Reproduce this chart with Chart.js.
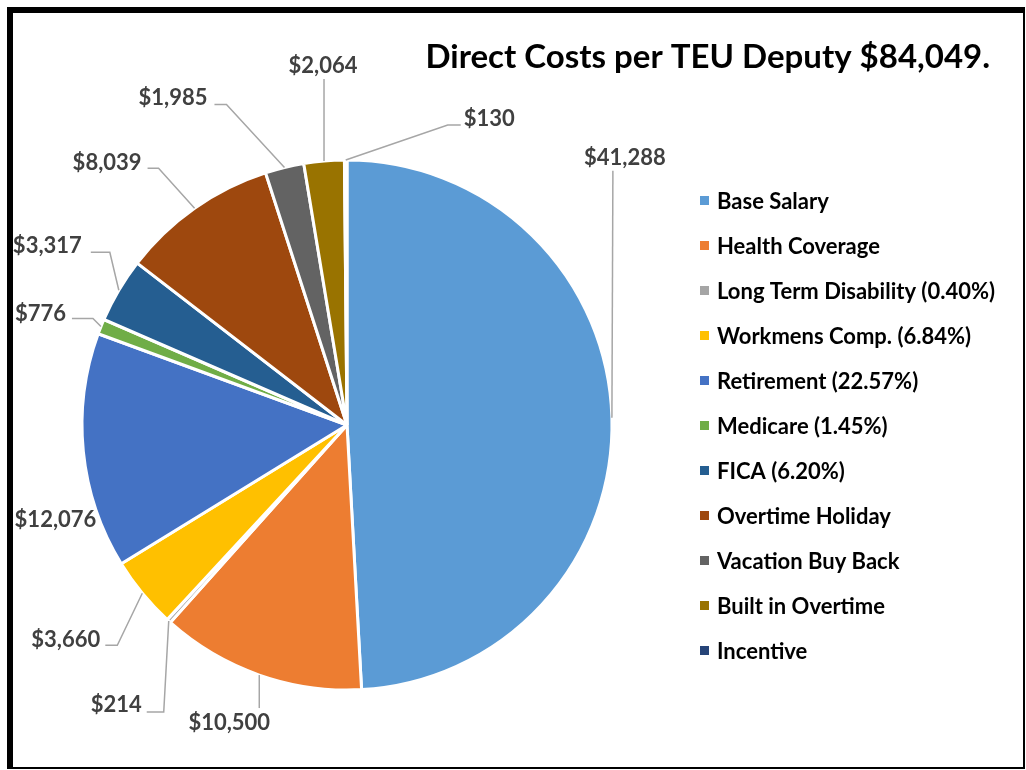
<!DOCTYPE html>
<html>
<head>
<meta charset="utf-8">
<script src="https://cdn.jsdelivr.net/npm/chart.js@4.4.1/dist/chart.umd.min.js"></script>
<style>
  html, body { margin: 0; padding: 0; background: #fff; }
  #wrap { width: 1026px; height: 770px; }
</style>
</head>
<body>
<div id="wrap"><canvas id="costChart" width="1026" height="770"></canvas></div>
<script>
const chartTitle = 'Direct Costs per TEU Deputy $84,049.';

const categories = [
    'Base Salary',
    'Health Coverage',
    'Long Term Disability (0.40%)',
    'Workmens Comp. (6.84%)',
    'Retirement (22.57%)',
    'Medicare (1.45%)',
    'FICA (6.20%)',
    'Overtime Holiday',
    'Vacation Buy Back',
    'Built in Overtime',
    'Incentive'
];

const costs = [41288, 10500, 214, 3660, 12076, 776, 3317, 8039, 1985, 2064, 130];

const sliceColors = [
    '#5B9BD5', '#ED7D31', '#A5A5A5', '#FFC000', '#4472C4', '#70AD47',
    '#255E91', '#9E480E', '#636363', '#997300', '#264478'
];

// leader line elbows (offsets from the slice's rim point) and label offsets from the line end
const leaderLayout = [
    { path: [[1, -247]], text: [12, -14], align: 'center' },
    { path: [[0, 33]], text: [-30, 14], align: 'center' },
    { path: [[-5, 91], [-17, 0]], text: [-5, -8], align: 'right' },
    { path: [[-25, 52], [-12, 0]], text: [-5, -6], align: 'right' },
    { path: [], text: [13, 68], align: 'right' },
    { path: [[-8, -8], [-21, 0]], text: [-6, -6], align: 'right' },
    { path: [[-9, -38], [-19, 0]], text: [-9, -7], align: 'right' },
    { path: [[-36, -40], [-11, 0]], text: [-6, -6], align: 'right' },
    { path: [[-58, -63], [-12, 0]], text: [-7, -7], align: 'right' },
    { path: [[0, -82]], text: [-1, -14], align: 'center' },
    { path: [[102, -35], [13, 0]], text: [3, -7], align: 'left' }
];

const FONT = 'Lato, "Open Sans", sans-serif';

function money(v) {
    return '$' + v.toLocaleString('en-US');
}

const extrasPlugin = {
    id: 'extras',
    afterDraw(chart) {
        const ctx = chart.ctx;
        const meta = chart.getDatasetMeta(0);
        ctx.save();

        // leader lines + value labels
        ctx.font = 'bold 22px ' + FONT;
        meta.data.forEach((arc, i) => {
            const p = arc.getProps(['x', 'y', 'startAngle', 'endAngle', 'outerRadius'], true);
            const mid = (p.startAngle + p.endAngle) / 2;
            let x = p.x + Math.cos(mid) * p.outerRadius;
            let y = p.y + Math.sin(mid) * p.outerRadius;
            const lay = leaderLayout[i];
            if (lay.path.length) {
                ctx.beginPath();
                ctx.moveTo(x, y);
                lay.path.forEach(d => {
                    x += d[0];
                    y += d[1];
                    ctx.lineTo(x, y);
                });
                ctx.strokeStyle = '#A6A6A6';
                ctx.lineWidth = 1.5;
                ctx.stroke();
            }
            ctx.fillStyle = '#404040';
            ctx.textAlign = lay.align;
            ctx.textBaseline = 'alphabetic';
            ctx.fillText(money(costs[i]), x + lay.text[0], y + lay.text[1] + 8);
        });

        // title
        ctx.font = 'bold 33px ' + FONT;
        ctx.fillStyle = '#000';
        ctx.textAlign = 'right';
        ctx.fillText(chartTitle, 990, 68);

        // legend
        ctx.font = 'bold 22px ' + FONT;
        ctx.textAlign = 'left';
        categories.forEach((name, i) => {
            const cy = 200.5 + i * 45;
            ctx.fillStyle = sliceColors[i];
            ctx.fillRect(700, cy - 4.5, 9, 9);
            ctx.fillStyle = '#000';
            ctx.fillText(name, 717, cy + 8);
        });

        // frame
        ctx.fillStyle = '#000';
        ctx.fillRect(7, 7, 1018, 6);
        ctx.fillRect(7, 7, 6, 762);
        ctx.fillRect(1023, 7, 2, 762);
        ctx.fillRect(7, 767, 1018, 2);
        ctx.restore();
    }
};

new Chart(document.getElementById('costChart'), {
    type: 'pie',
    data: {
        labels: categories,
        datasets: [{
            data: costs,
            backgroundColor: sliceColors,
            borderColor: '#FFFFFF',
            borderWidth: 3
        }]
    },
    options: {
        responsive: false,
        animation: false,
        radius: 265,
        layout: { padding: { left: 82, right: 414, top: 160, bottom: 80 } },
        plugins: {
            legend: { display: false },
            title: { display: false },
            tooltip: { enabled: false }
        }
    },
    plugins: [extrasPlugin]
});
</script>
</body>
</html>
